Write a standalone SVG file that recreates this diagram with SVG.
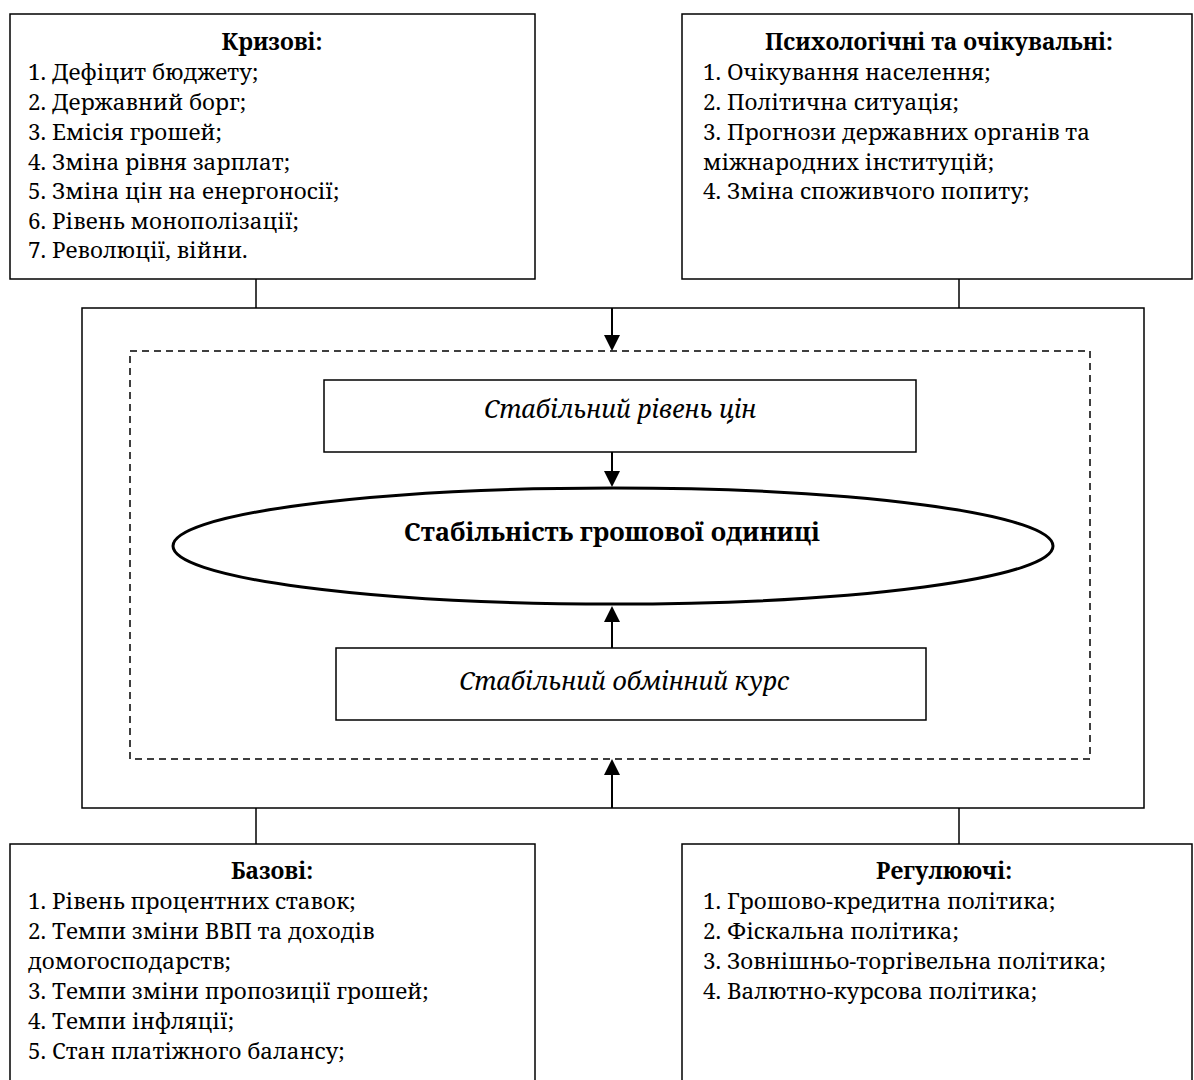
<svg xmlns="http://www.w3.org/2000/svg" width="1194" height="1080" viewBox="0 0 1194 1080">
<defs>
<style>
.box{fill:#fff;stroke:#000;stroke-width:1.5}
.frame{fill:none;stroke:#000;stroke-width:1.5}
.dash{fill:none;stroke:#000;stroke-width:1.5;stroke-dasharray:7 5}
.line{stroke:#000;stroke-width:1.5;fill:none}
.arr{stroke:#000;stroke-width:2;fill:none}
text{font-family:"Noto Serif","DejaVu Serif",serif;fill:#000}
.t{font-size:22.4px}
.h{font-weight:bold;text-anchor:middle;font-size:22.8px}
.it{font-size:25px;font-style:italic;text-anchor:middle}
.main{font-size:25.5px;font-weight:bold;text-anchor:middle}
</style>
</defs>
<rect width="1194" height="1080" fill="#fff"/>

<g id="frame">
<rect class="frame" x="82" y="308" width="1062" height="500"/>
<rect class="dash" x="130" y="351" width="960" height="408"/>
</g>

<g id="connectors">
<line class="line" x1="256" y1="279" x2="256" y2="308"/>
<line class="line" x1="959" y1="279" x2="959" y2="308"/>
<line class="line" x1="256" y1="808" x2="256" y2="844"/>
<line class="line" x1="959" y1="808" x2="959" y2="844"/>
<path d="M612,308 V336" class="arr"/>
<path d="M604,335 L620,335 L612,351 z" fill="#000"/>
<path d="M612,452 V472" class="arr"/>
<path d="M604,471 L620,471 L612,487 z" fill="#000"/>
<path d="M612,648 V621" class="arr"/>
<path d="M604,622 L620,622 L612,606 z" fill="#000"/>
<path d="M612,808 V774" class="arr"/>
<path d="M604,775 L620,775 L612,759 z" fill="#000"/>
</g>

<g id="crisis">
<rect class="box" x="10" y="14" width="525" height="265"/>
<text class="t h" x="272" y="49.5">Кризові:</text>
<text class="t" x="28" y="79.5">1. Дефіцит бюджету;</text>
<text class="t" x="28" y="109.5">2. Державний борг;</text>
<text class="t" x="28" y="139.5">3. Емісія грошей;</text>
<text class="t" x="28" y="169.5">4. Зміна рівня зарплат;</text>
<text class="t" x="28" y="199">5. Зміна цін на енергоносії;</text>
<text class="t" x="28" y="228.5">6. Рівень монополізації;</text>
<text class="t" x="28" y="258">7. Революції, війни.</text>
</g>

<g id="psych">
<rect class="box" x="682" y="14" width="510" height="265"/>
<text class="t h" x="939" y="49.5">Психологічні та очікувальні:</text>
<text class="t" x="703" y="79.5">1. Очікування населення;</text>
<text class="t" x="703" y="109.5">2. Політична ситуація;</text>
<text class="t" x="703" y="139.5">3. Прогнози державних органів та</text>
<text class="t" x="703" y="169.5">міжнародних інституцій;</text>
<text class="t" x="703" y="199">4. Зміна споживчого попиту;</text>
</g>

<g id="prices">
<rect class="box" x="324" y="380" width="592" height="72"/>
<text class="it" x="620" y="418">Стабільний рівень цін</text>
</g>

<g id="stability">
<ellipse cx="613" cy="546" rx="440" ry="58" fill="#fff" stroke="#000" stroke-width="3"/>
<text class="main" x="612" y="541">Стабільність грошової одиниці</text>
</g>

<g id="exchange">
<rect class="box" x="336" y="648" width="590" height="72"/>
<text class="it" x="624" y="690">Стабільний обмінний курс</text>
</g>

<g id="base">
<rect class="box" x="10" y="844" width="525" height="250"/>
<text class="t h" x="272" y="879">Базові:</text>
<text class="t" x="28" y="909">1. Рівень процентних ставок;</text>
<text class="t" x="28" y="939">2. Темпи зміни ВВП та доходів</text>
<text class="t" x="28" y="969">домогосподарств;</text>
<text class="t" x="28" y="999">3. Темпи зміни пропозиції грошей;</text>
<text class="t" x="28" y="1029">4. Темпи інфляції;</text>
<text class="t" x="28" y="1059">5. Стан платіжного балансу;</text>
</g>

<g id="regul">
<rect class="box" x="682" y="844" width="510" height="250"/>
<text class="t h" x="944" y="879">Регулюючі:</text>
<text class="t" x="703" y="909">1. Грошово-кредитна політика;</text>
<text class="t" x="703" y="939">2. Фіскальна політика;</text>
<text class="t" x="703" y="969">3. Зовнішньо-торгівельна політика;</text>
<text class="t" x="703" y="999">4. Валютно-курсова політика;</text>
</g>
</svg>
